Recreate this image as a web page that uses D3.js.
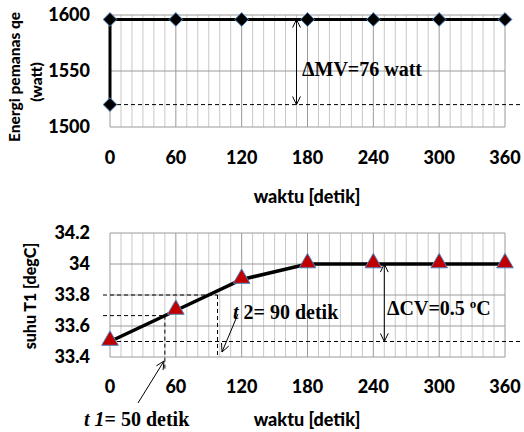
<!DOCTYPE html>
<meta charset="utf-8">
<script src="https://d3js.org/d3.v7.min.js"></script>
<style>
  body { margin: 0; background: #fff; }
  text { font-family: Lato, "Open Sans", sans-serif; font-weight: 900; }
  .ann { font-family: "Liberation Serif", "Times New Roman", serif; font-weight: bold; }
</style>
<div id="chart"></div>
<script>

var times = [0, 60, 120, 180, 240, 300, 360];
var xTicks = [0, 60, 120, 180, 240, 300, 360];

// top chart: heater power
var powerTimes = [0, 0, 60, 120, 180, 240, 300, 360];
var powerValues = [1520, 1596, 1596, 1596, 1596, 1596, 1596, 1596];
var powerTicks = [1500, 1550, 1600];

// bottom chart: temperature T1
var tempValues = [33.5, 33.7, 33.9, 34.0, 34.0, 34.0, 34.0];
var tempTicks = [33.4, 33.6, 33.8, 34, 34.2];

var width = 524, height = 432;

var svg = d3.select("#chart").append("svg")
  .attr("width", width)
  .attr("height", height);

var x = d3.scaleLinear().domain([0, 360]).range([110, 505]);
var yTop = d3.scaleLinear().domain([1500, 1600]).range([127, 15]);
var yBot = d3.scaleLinear().domain([33.4, 34.2]).range([357, 233]);

function drawGrid(y, yTicks) {
  var g = svg.append("g");
  var y0 = y.range()[0], y1 = y.range()[1];
  // minor vertical lines every 10 s
  g.selectAll("line.minor")
    .data(d3.range(0, 361, 10).filter(function(d){ return d % 60 != 0; }))
    .enter().append("line")
      .attr("x1", function(d){ return x(d); })
      .attr("x2", function(d){ return x(d); })
      .attr("y1", y0).attr("y2", y1)
      .attr("stroke", "#c8c8c8").attr("stroke-width", 1);
  g.selectAll("line.major")
    .data(xTicks)
    .enter().append("line")
      .attr("x1", function(d){ return x(d); })
      .attr("x2", function(d){ return x(d); })
      .attr("y1", y0).attr("y2", y1)
      .attr("stroke", "#9a9a9a").attr("stroke-width", 1);
  g.selectAll("line.h")
    .data(yTicks)
    .enter().append("line")
      .attr("x1", x(0)).attr("x2", x(360))
      .attr("y1", function(d){ return y(d); })
      .attr("y2", function(d){ return y(d); })
      .attr("stroke", "#9a9a9a").attr("stroke-width", 1);

  // tick labels
  g.selectAll("text.yt")
    .data(yTicks)
    .enter().append("text")
      .attr("x", 90)
      .attr("y", function(d){ return y(d); })
      .attr("dy", "0.35em")
      .attr("text-anchor", "end")
      .style("font-size", "18px")
      .text(function(d){ return d; });
  return g;
}

function xLabels(yPos, titleY) {
  svg.append("g").selectAll("text")
    .data(xTicks)
    .enter().append("text")
      .attr("x", function(d){ return x(d); })
      .attr("y", yPos)
      .attr("dy", "0.35em")
      .attr("text-anchor", "middle")
      .style("font-size", "18px")
      .text(function(d){ return d; });
  svg.append("text")
    .attr("x", 307).attr("y", titleY)
    .attr("dy", "0.35em")
    .attr("text-anchor", "middle")
    .style("font-size", "18px")
    .text("waktu [detik]");
}

function dashed(x1, y1, x2, y2) {
  svg.append("line")
    .attr("x1", x1).attr("y1", y1).attr("x2", x2).attr("y2", y2)
    .attr("stroke", "#000").attr("stroke-width", 1)
    .attr("stroke-dasharray", "4,3");
}

function openHead(px, py, angle) {
  // V shaped arrow head with tip at (px,py), pointing in direction angle
  var len = 9, spread = 0.45;
  var a1 = angle + Math.PI - spread, a2 = angle + Math.PI + spread;
  svg.append("path")
    .attr("d", "M" + (px + len * Math.cos(a1)) + "," + (py + len * Math.sin(a1)) +
      "L" + px + "," + py +
      "L" + (px + len * Math.cos(a2)) + "," + (py + len * Math.sin(a2)))
    .attr("fill", "none").attr("stroke", "#000").attr("stroke-width", 1);
}

function arrow(x1, y1, x2, y2, both) {
  svg.append("line")
    .attr("x1", x1).attr("y1", y1).attr("x2", x2).attr("y2", y2)
    .attr("stroke", "#000").attr("stroke-width", 1);
  var ang = Math.atan2(y2 - y1, x2 - x1);
  openHead(x2, y2, ang);
  if (both) openHead(x1, y1, ang + Math.PI);
}

// ---------- top chart ----------
drawGrid(yTop, powerTicks);
xLabels(158, 197);

svg.append("text")
  .attr("transform", "translate(20,77) rotate(-90)")
  .attr("text-anchor", "middle")
  .style("font-size", "15.5px")
  .text("Energi pemanas qe");
svg.append("text")
  .attr("transform", "translate(42,82) rotate(-90)")
  .attr("text-anchor", "middle")
  .style("font-size", "15.5px")
  .text("(watt)");

dashed(x(0), yTop(1520), 520, yTop(1520));
arrow(x(170), yTop(1596), x(170), yTop(1520), true);
svg.append("text").attr("class", "ann")
  .attr("x", 302).attr("y", 76)
  .style("font-size", "20px")
  .text("\u0394MV=76 watt");

var powerPts = powerTimes.map(function(t, i){ return [t, powerValues[i]]; });
svg.append("path")
  .datum(powerPts)
  .attr("d", d3.line().x(function(d){ return x(d[0]); }).y(function(d){ return yTop(d[1]); }))
  .attr("fill", "none").attr("stroke", "#000").attr("stroke-width", 3);

svg.append("g").selectAll("path")
  .data(powerPts)
  .enter().append("path")
    .attr("transform", function(d){ return "translate(" + x(d[0]) + "," + yTop(d[1]) + ")"; })
    .attr("d", d3.symbol().type(d3.symbolDiamond2).size(120))
    .attr("fill", "#000").attr("stroke", "#4f81bd").attr("stroke-width", 1);

// ---------- bottom chart ----------
drawGrid(yBot, tempTicks);
xLabels(387, 420);

svg.append("text")
  .attr("transform", "translate(36,296) rotate(-90)")
  .attr("text-anchor", "middle")
  .style("font-size", "16px")
  .text("suhu T1 [degC]");

// helper dashed lines
dashed(x(0), yBot(33.5), 520, yBot(33.5));
dashed(103, yBot(33.667), x(50), yBot(33.667));
dashed(x(50), yBot(33.667), x(50), 370);
dashed(103, yBot(33.8), x(98), yBot(33.8));
dashed(x(98), yBot(33.8), x(98), 355);

arrow(x(250), yBot(34.0), x(250), yBot(33.5), true);
var cv = svg.append("text").attr("class", "ann")
  .attr("x", 387).attr("y", 315)
  .style("font-size", "20px")
  .text("\u0394CV=0.5 ");
cv.append("tspan").attr("dy", -7).style("font-size", "13px").text("o");
cv.append("tspan").attr("dy", 7).text("C");

arrow(238, 314, 222, 352, false);
svg.append("text").attr("class", "ann")
  .attr("x", 233).attr("y", 319)
  .style("font-size", "20px")
  .html('<tspan font-style="italic">t</tspan> 2= 90 detik');

arrow(138, 403, 164, 361, false);
svg.append("text").attr("class", "ann")
  .attr("x", 84).attr("y", 426)
  .style("font-size", "20px")
  .html('<tspan font-style="italic">t</tspan> <tspan font-style="italic">1</tspan>= 50 detik');

svg.append("path")
  .datum(times)
  .attr("d", d3.line().x(function(d){ return x(d); }).y(function(d, i){ return yBot(tempValues[i]); }))
  .attr("fill", "none").attr("stroke", "#000").attr("stroke-width", 3.5);

svg.append("g").selectAll("path")
  .data(times)
  .enter().append("path")
    .attr("transform", function(d, i){ return "translate(" + x(d) + "," + (yBot(tempValues[i]) - 1) + ")"; })
    .attr("d", d3.symbol().type(d3.symbolTriangle).size(120))
    .attr("fill", "#c00000").attr("stroke", "#4f81bd").attr("stroke-width", 1);

</script>
